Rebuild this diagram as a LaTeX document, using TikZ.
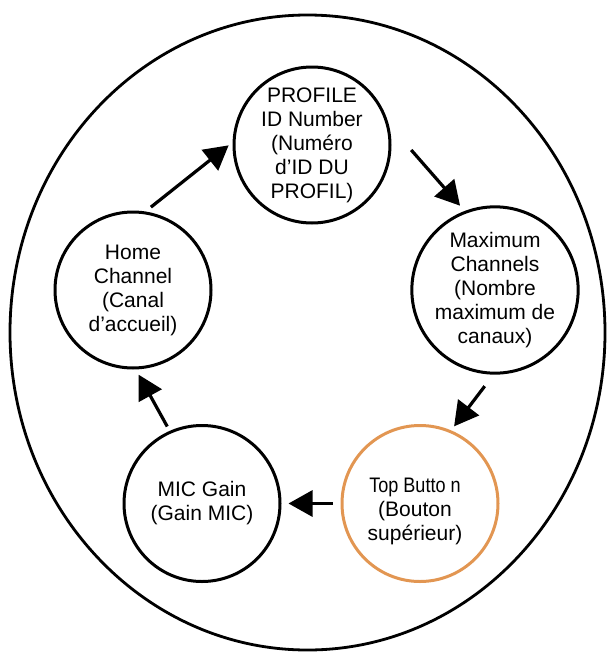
\documentclass[tikz,border=0pt]{standalone}
\usepackage{fontspec}
\setmainfont{Liberation Sans}
\usetikzlibrary{arrows.meta,shapes.geometric}
\definecolor{ringorange}{RGB}{226,150,82}
\begin{document}
\begin{tikzpicture}[x=1pt,y=-1pt,
  stagecircle/.style={circle,draw=black,line width=3pt,minimum size=156pt,inner sep=0pt,
    align=center,font=\fontsize{21}{24}\selectfont},
  flowarrow/.style={line width=3.2pt,-{Triangle[length=24pt,width=26pt]}},
  txt/.style={align=center,font=\fontsize{21}{24}\selectfont,inner sep=0pt}]
\useasboundingbox (0,0) rectangle (612,656);
\node[ellipse,draw=black,line width=2.8pt,minimum width=595pt,minimum height=635pt,inner sep=0pt] (frame) at (307.5,332.5) {};
\node[stagecircle] (prof) at (312,145) {PROFILE\\ID Number\\(Numéro\\d'ID DU\\PROFIL)};
\node[stagecircle] (max) at (495,290) {Maximum\\Channels\\(Nombre\\maximum de\\canaux)};
\node[stagecircle,draw=ringorange] (top) at (420,503.5) {};
\node[txt] (toptext) at ([xshift=-5pt,yshift=-8pt]top.center) {\scalebox{0.86}[1]{Top Butto n}\\(Bouton\\supérieur)};
\node[stagecircle] (mic) at (202,503.5) {MIC Gain\\(Gain MIC)};
\node[stagecircle] (home) at (133,290) {Home\\Channel\\(Canal\\d'accueil)};
\draw[flowarrow,shorten <=7pt,shorten >=5pt] (home.81) -- (prof.178);
\draw[flowarrow,shorten <=34pt,shorten >=7pt] (prof.15) -- (max.111);
\draw[flowarrow,shorten <=14.5pt,shorten >=5pt] (max.-91) -- (top.67);
\draw[flowarrow,shorten <=8pt,shorten >=7pt] (top.180) -- (mic.0);
\draw[flowarrow,shorten <=5pt,shorten >=6pt] (mic.114) -- (home.-88);
\end{tikzpicture}
\end{document}
